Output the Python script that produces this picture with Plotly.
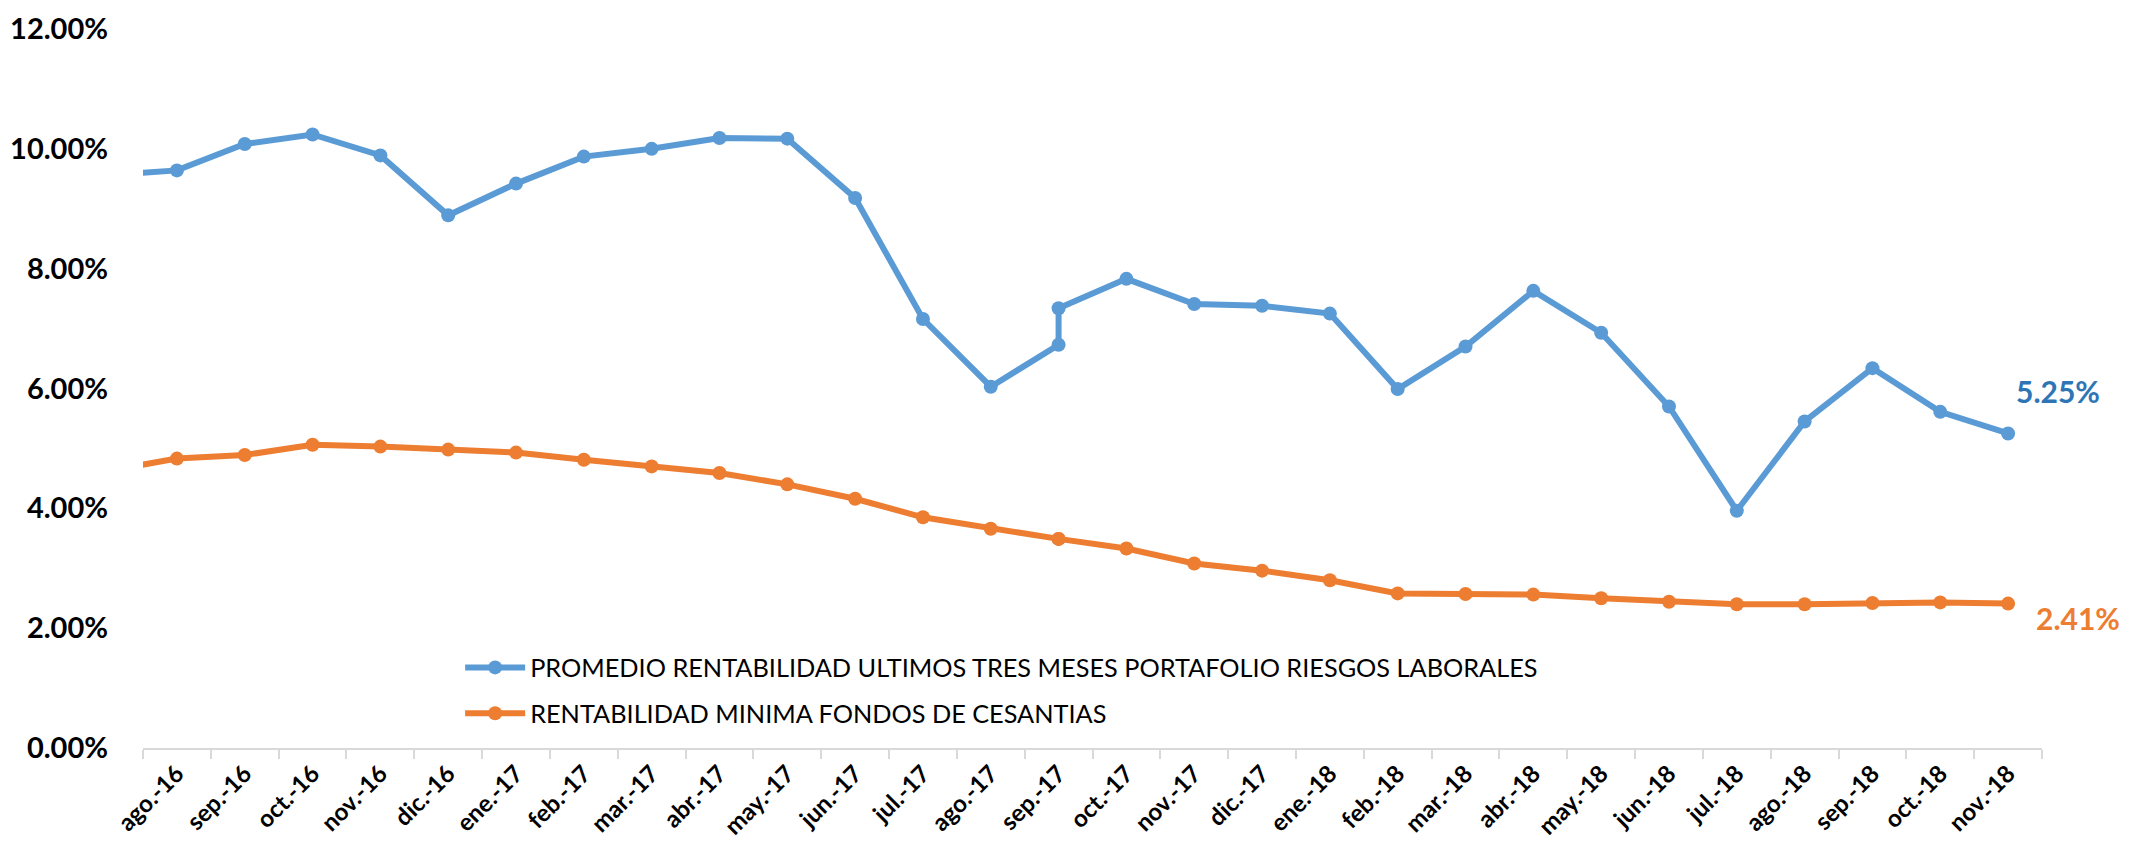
import plotly.graph_objects as go

# Month categories (jul.-16 lies just left of the visible range, as in the source)
months = ["jul.-16", "ago.-16", "sep.-16", "oct.-16", "nov.-16", "dic.-16",
          "ene.-17", "feb.-17", "mar.-17", "abr.-17", "may.-17", "jun.-17",
          "jul.-17", "ago.-17", "sep.-17", "oct.-17", "nov.-17", "dic.-17",
          "ene.-18", "feb.-18", "mar.-18", "abr.-18", "may.-18", "jun.-18",
          "jul.-18", "ago.-18", "sep.-18", "oct.-18", "nov.-18"]

# Data point positions (sep.-17 has two observations)
point_months = ["jul.-16", "ago.-16", "sep.-16", "oct.-16", "nov.-16", "dic.-16",
                "ene.-17", "feb.-17", "mar.-17", "abr.-17", "may.-17", "jun.-17",
                "jul.-17", "ago.-17", "sep.-17", "sep.-17", "oct.-17", "nov.-17",
                "dic.-17", "ene.-18", "feb.-18", "mar.-18", "abr.-18", "may.-18",
                "jun.-18", "jul.-18", "ago.-18", "sep.-18", "oct.-18", "nov.-18"]

promedio_riesgos = [9.56, 9.64, 10.08, 10.24, 9.89, 8.89,
                    9.42, 9.87, 10.00, 10.18, 10.17, 9.18,
                    7.16, 6.03, 6.73, 7.34, 7.83, 7.41,
                    7.38, 7.25, 5.99, 6.70, 7.63, 6.93,
                    5.70, 3.96, 5.45, 6.34, 5.61, 5.25]

minima_cesantias = [4.63, 4.83, 4.89, 5.06, 5.03, 4.98,
                    4.93, 4.81, 4.70, 4.59, 4.40, 4.16,
                    3.85, 3.66, 3.49, 3.49, 3.33, 3.08,
                    2.96, 2.80, 2.58, 2.57, 2.56, 2.50,
                    2.44, 2.40, 2.40, 2.42, 2.43, 2.41]

name_blue = "PROMEDIO RENTABILIDAD ULTIMOS TRES MESES PORTAFOLIO RIESGOS LABORALES"
name_orange = "RENTABILIDAD MINIMA FONDOS DE CESANTIAS"

BLUE = "#5B9BD5"
ORANGE = "#ED7D31"
FONT = "Lato"

fig = go.Figure()
fig.add_trace(go.Scatter(
    x=point_months, y=promedio_riesgos, name=name_blue, mode="lines+markers",
    line=dict(color=BLUE, width=6), marker=dict(color=BLUE, size=14),
    legendgroup="a", cliponaxis=True))
fig.add_trace(go.Scatter(
    x=point_months, y=minima_cesantias, name=name_orange, mode="lines+markers",
    line=dict(color=ORANGE, width=6), marker=dict(color=ORANGE, size=14),
    legendgroup="b", cliponaxis=True))

fig.add_annotation(x=point_months[-1], y=promedio_riesgos[-1],
                   text=f"{promedio_riesgos[-1]:.2f}%", showarrow=False,
                   xanchor="left", yanchor="middle", xshift=6, yshift=42,
                   font=dict(family=FONT, size=30, color="#2E75B6", weight="bold"))
fig.add_annotation(x=point_months[-1], y=minima_cesantias[-1],
                   text=f"{minima_cesantias[-1]:.2f}%", showarrow=False,
                   xanchor="left", yanchor="middle", xshift=26, yshift=-14,
                   font=dict(family=FONT, size=30, color=ORANGE, weight="bold"))

# the page body adds an 8px offset, so margins are reduced on the left/top
fig.update_layout(
    width=2134, height=848,
    margin=dict(l=135, r=100, t=21, b=108, pad=0),
    paper_bgcolor="white", plot_bgcolor="white",
    font=dict(family=FONT, color="black"),
    showlegend=True,
    legend=dict(x=0.167, y=0.144, xanchor="left", yanchor="top",
                bgcolor="rgba(0,0,0,0)", tracegroupgap=10,
                font=dict(family=FONT, size=25.3, color="black"),
                itemwidth=60),
)
fig.update_xaxes(
    type="category", categoryorder="array", categoryarray=months,
    range=[0.5, len(months) - 0.5], automargin=False,
    showline=True, linecolor="#D9D9D9", linewidth=2,
    ticks="outside", tickson="boundaries", ticklen=9, tickwidth=2, tickcolor="#D9D9D9",
    showgrid=False, zeroline=False,
    tickangle=-45, ticklabeloverflow="allow",
    tickfont=dict(family=FONT, size=24, color="black", weight="bold"),
)
fig.update_yaxes(
    range=[0, 12], dtick=2, tick0=0, tickformat=".2f", ticksuffix="%",
    automargin=False, ticklabeloverflow="allow",
    showline=False, showgrid=False, zeroline=False, ticks="",
    ticklabelstandoff=34,
    tickfont=dict(family=FONT, size=29, color="black", weight="bold"),
)

fig.write_html("out.html")
